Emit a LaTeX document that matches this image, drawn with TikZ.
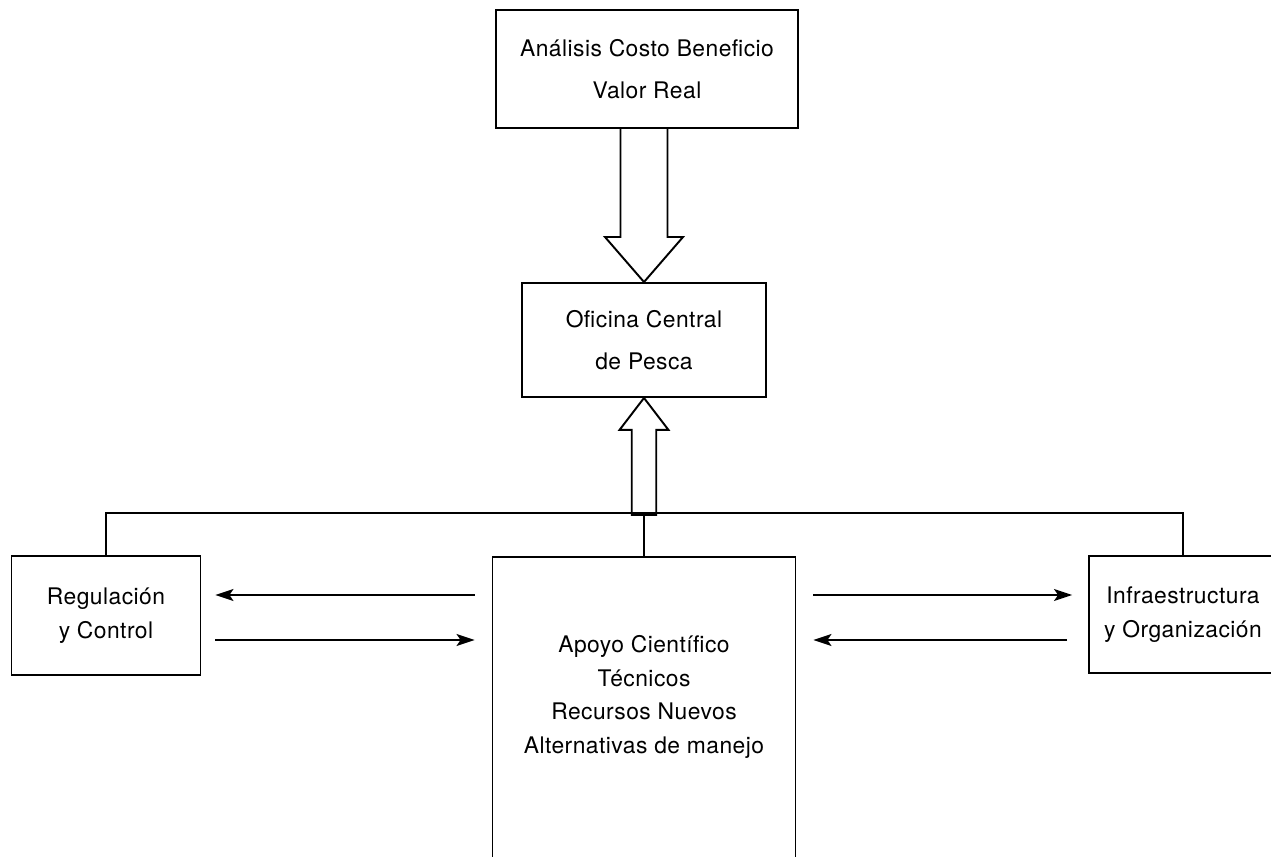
\documentclass[tikz,border=0pt]{standalone}
\usepackage{fontspec}
\setmainfont{TeX Gyre Heros}[LetterSpace=2]
\usetikzlibrary{arrows.meta,positioning}

\begin{document}
\begin{tikzpicture}[
    font=\fontsize{13}{19}\selectfont,
    >={Stealth[length=3.6mm,width=2.4mm,inset=0.8mm]},
    line width=1.1pt,
    box/.style={draw, align=center, inner sep=0pt},
    tall/.style={box, font=\fontsize{13}{23.8}\selectfont},
    hollow/.style={draw, fill=white, line join=miter},
    link/.style={->, line width=0.9pt}
  ]
  \useasboundingbox (0,0) rectangle (25.42,17.14);

  \node[tall, minimum width=6.04cm, minimum height=2.36cm] (analisis) at (12.94,15.76) {Análisis Costo Beneficio\\Valor Real};
  \node[tall, minimum width=4.88cm, minimum height=2.28cm] (oficina) at (12.88,10.34) {Oficina Central\\de Pesca};

  \node[box, minimum width=3.78cm, minimum height=2.38cm] (reg) at (2.12,4.83) {Regulación\\y Control};
  \node[box, minimum width=6.06cm, minimum height=7.2cm, anchor=north] (apoyo) at (12.88,6.02) {};
  \node[align=center] (apoyo-txt) at (12.88,3.2) {Apoyo Científico\\Técnicos\\Recursos Nuevos\\Alternativas de manejo};
  \node[box, minimum width=3.76cm, minimum height=2.34cm] (infra) at (23.66,4.85) {Infraestructura\\y Organización};

  \draw[hollow] (oficina.north) -- ++(-0.78,0.9) -- ++(0.31,0) -- ++(0,2.18) -- ++(0.94,0) -- ++(0,-2.18) -- ++(0.31,0) -- cycle;
  \draw[hollow] (oficina.south) -- ++(0.49,-0.64) -- ++(-0.245,0) -- ++(0,-1.70) -- ++(-0.49,0) -- ++(0,1.70) -- ++(-0.245,0) -- cycle;

  \draw (reg.north) -- ++(0,0.84) -| (infra.north);
  \draw (apoyo.north) -- ++(0,0.84);

  \draw[link, shorten <=3.4mm, shorten >=2.8mm] ([yshift=4.1mm]apoyo.west |- reg.east) -- ([yshift=4.1mm]reg.east);
  \draw[link, shorten <=2.8mm, shorten >=3.4mm] ([yshift=-4.9mm]reg.east) -- ([yshift=-4.9mm]apoyo.west |- reg.east);
  \draw[link, shorten <=3.4mm, shorten >=3.2mm] ([yshift=3.9mm]apoyo.east |- infra.west) -- ([yshift=3.9mm]infra.west);
  \draw[link, shorten <=4.2mm, shorten >=3.4mm] ([yshift=-5.1mm]infra.west) -- ([yshift=-5.1mm]apoyo.east |- infra.west);
\end{tikzpicture}
\end{document}
